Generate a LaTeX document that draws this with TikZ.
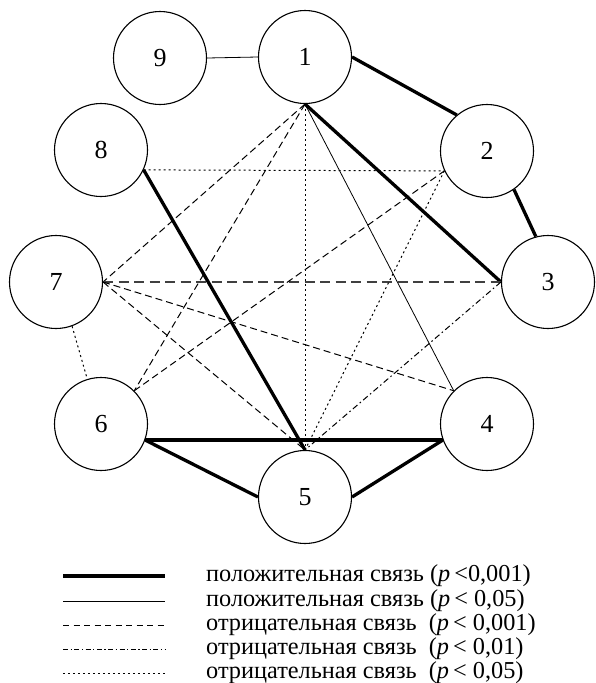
\documentclass[tikz,border=0pt]{standalone}
\usepackage{fontspec}
\setmainfont{Liberation Serif}
\begin{document}
\begin{tikzpicture}[x=1pt,y=-1pt,
  vnode/.style={circle,draw,line width=1.1pt,minimum size=93pt,inner sep=0pt,font=\fontsize{26}{30}\selectfont},
  strong/.style={line width=3.3pt},
  weak/.style={line width=0.8pt},
  negA/.style={line width=1pt,dash pattern=on 7pt off 4pt},
  negAlong/.style={line width=1.2pt,dash pattern=on 10pt off 5.5pt,draw=black!75},
  negB/.style={line width=1pt,dash pattern=on 6pt off 3pt on 1.5pt off 3pt},
  negC/.style={line width=1pt,dash pattern=on 2pt off 3pt},
  legtext/.style={anchor=base west,inner sep=0pt,font=\fontsize{24.3}{27}\selectfont}
]
\useasboundingbox (0,0) rectangle (595,683);

\node[vnode] (n1) at (305,57) {1};
\node[vnode] (n2) at (487,151) {2};
\node[vnode] (n3) at (548,282) {3};
\node[vnode] (n4) at (487,424) {4};
\node[vnode] (n5) at (305,497) {5};
\node[vnode] (n6) at (101,424) {6};
\node[vnode] (n7) at (56,282) {7};
\node[vnode] (n8) at (101,150) {8};
\node[vnode] (n9) at (160,58) {9};

% positive, p<0.001
\draw[strong] (n1.east) -- (n2.130);
\draw[strong] (n2.-55) -- (n3.105);
\draw[strong] (n1.south) -- (n3.west);
\draw[strong] (n8.-25) -- (n5.north);
\draw[strong] (n6.-20) -- (n4.200);
\draw[strong] (n6.-20) -- (n5.west);
\draw[strong] (n5.east) -- (n4.200);

% positive, p<0.05
\draw[weak] (n9.east) -- (n1.west);
\draw[weak] (n1.south) -- (n4.north west);

% negative, p<0.001
\draw[negA] (n1.south) -- (n7.east);
\draw[negA] (n1.south) -- (n6.north east);
\draw[negAlong] (n7.east) -- (n3.west);
\draw[negA] (n7.east) -- (n4.north west);
\draw[negA] (n7.east) -- (n5.north);
\draw[negA] (n6.north east) -- (n2.205);

% negative, p<0.01
\draw[negB] (n3.west) -- (n5.north);

% negative, p<0.05
\draw[negC] (n1.south) -- (n5.north);
\draw[negC] (n8.-25) -- (n2.205);
\draw[negC] (n2.205) -- (n5.north);
\draw[negC] (n7.-70) -- (n6.107);

% legend
\coordinate (la1) at (63,576); \coordinate (lb1) at (165,576);
\coordinate (la2) at (63,601); \coordinate (lb2) at (165,601);
\coordinate (la3) at (63,625); \coordinate (lb3) at (165,625);
\coordinate (la4) at (63,649); \coordinate (lb4) at (165,649);
\coordinate (la5) at (63,673); \coordinate (lb5) at (165,673);
\draw[line width=3.8pt] (la1) -- (lb1);
\draw[line width=0.8pt] (la2) -- (lb2);
\draw[line width=1pt,dash pattern=on 6pt off 4.5pt] (la3) -- (lb3);
\draw[line width=1pt,dash pattern=on 5pt off 2.5pt on 1.3pt off 2.5pt] (la4) -- (lb4);
\draw[line width=1pt,dash pattern=on 1.5pt off 3.5pt] (la5) -- (lb5);

\node[legtext] (t1) at (206,581.7) {положительная связь (\textit{p}\thinspace<0,001)};
\node[legtext] (t2) at (206,606.7) {положительная связь (\textit{p}\thinspace< 0,05)};
\node[legtext] (t3) at (206,630.7) {отрицательная связь\ \ (\textit{p}\thinspace< 0,001)};
\node[legtext] (t4) at (206,654.7) {отрицательная связь\ \ (\textit{p}\thinspace< 0,01)};
\node[legtext] (t5) at (206,678.7) {отрицательная связь\ \ (\textit{p}\thinspace< 0,05)};
\end{tikzpicture}
\end{document}
